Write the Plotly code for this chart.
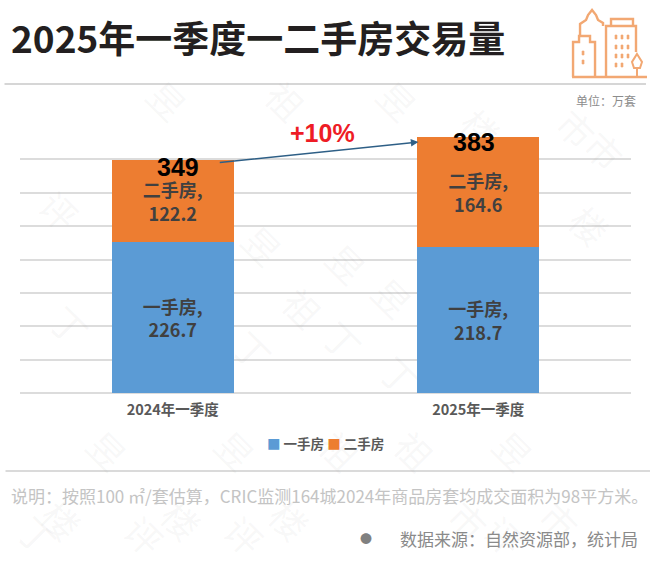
import plotly.graph_objects as go

categories = ["2024年一季度", "2025年一季度"]
series_names = ["一手房", "二手房"]
first_hand = [226.7, 218.7]
second_hand = [122.2, 164.6]
totals = [349, 383]
change_label = "+10%"
title_text = "2025年一季度一二手房交易量"
unit_text = "单位\uff1a万套"
note_text = "说明\uff1a按照100 ㎡/套估算\uff0cCRIC监测164城2024年商品房套均成交面积为98平方米。"
source_text = "数据来源\uff1a自然资源部\uff0c统计局"

BLUE, ORANGE = "#5b9bd5", "#ed7d31"
CJK = "Noto Sans CJK SC"
W, H = 650, 573
L, R, T, B = 19.5, 631, 126, 393

def px(x):
    return (x - L) / (R - L)
def py(y):
    return (B - y) / (B - T)

fig = go.Figure()
for name, vals, col in [(series_names[0], first_hand, BLUE), (series_names[1], second_hand, ORANGE)]:
    fig.add_bar(
        x=categories, y=vals, name=name, marker=dict(color=col, line_width=0),
        text=[f"{name},<br>{v}" for v in vals], textposition="inside",
        insidetextanchor="middle", textangle=0,
        insidetextfont=dict(family=CJK, size=18, color="#404040", weight="bold"),
        hoverinfo="skip", cliponaxis=False,
    )

ann = []
def text(x, y, s, size, color, anchor="center", bold=False, family=CJK, angle=0):
    ann.append(dict(xref="paper", yref="paper", x=px(x), y=py(y), text=f"<b>{s}</b>" if bold else s,
                    showarrow=False, xanchor=anchor, yanchor="middle", textangle=angle,
                    font=dict(family=family, size=size, color=color)))

# watermark (rotated, very pale)
marks = [("昱",168,100),("祖",286,100),("昱",398,100),("楼",481,128),("市",577,128),
         ("评",60,210),("昱",263,245),("昱",347,263),("祖",303,307),("昱",393,297),
         ("丁",253,350),("丁",343,340),("丁",400,375),("丁",70,325),("市",605,150),
         ("楼",590,225),("昱",108,450),("昱",236,450),("祖",340,450),
         ("祖",415,450),("昱",514,450),("楼",62,520),("楼",182,520),("楼",290,520),
         ("市",469,520),("市",560,520),("丁",38,535),("评",145,535),
         ("评",245,535),("评",505,535)]
for ch, x, y in marks:
    text(x, y, ch, 36, "rgba(150,150,150,0.07)", angle=45)

text(8, 37, title_text, 37, "#231f20", "left", True)
text(638, 100, unit_text, 12, "#8c8c8c", "right")
text(322, 133, change_label, 25, "#ee1c25", bold=True, family="Liberation Sans")
text(8, 495, note_text, 17, "#c4c4c4", "left")
text(640, 538, source_text, 17, "#8a8a8a", "right")
text(366, 538, "●", 12, "#808080")
legend = f'<span style="color:{BLUE}">■</span> {series_names[0]} <span style="color:{ORANGE}">■</span> {series_names[1]}'
text(325, 443, legend, 13.5, "#595959", bold=True)

# totals above the stacks
for i, (t, dx, dy) in enumerate(zip(totals, (5, -4), (-7, -5))):
    ann.append(dict(xref="x", yref="y", x=i, y=t, text=f"<b>{t}</b>", showarrow=False,
                    xshift=dx, yshift=dy, font=dict(family="Liberation Sans", size=25, color="#000000")))

# growth arrow
ann.append(dict(xref="x", yref="y", axref="x", ayref="y", x=0.804, y=376, ax=0.149, ay=345,
                text="", showarrow=True, arrowhead=2, arrowsize=1, arrowwidth=1.5, arrowcolor="#2e5f86"))

shapes = []
def path(d, width=2.4, fill=None):
    out = []
    for tok in d.split():
        if "," in tok:
            a, b = tok.split(",")
            out.append(f"{px(float(a)):.5f},{py(float(b)):.5f}")
        else:
            out.append(tok)
    shapes.append(dict(type="path", xref="paper", yref="paper", path=" ".join(out),
                       line=dict(color="#f2a873", width=width), fillcolor=fill or "rgba(0,0,0,0)"))
def rule(x0, x1, y, color, w=1.3):
    shapes.append(dict(type="line", xref="paper", yref="paper", x0=px(x0), x1=px(x1), y0=py(y), y1=py(y),
                       line=dict(color=color, width=w)))

rule(4, 646, 84, "#c9c9c9", 1.5)
rule(5, 650, 471, "#b5b5b5", 1.2)

# building icon
path("M 572,77 L 647,77")
path("M 573,77 L 573,42 L 579,42 L 579,36 L 590,36 L 590,42 L 595,42 L 595,77")
path("M 580,36 L 580,24 L 586,20 L 588,15 L 592,10 L 596,15 L 598,20 L 603,23 L 603,26")
path("M 606,77 L 606,26 L 636,26 L 636,52")
path("M 611,26 L 611,19 L 633,19 L 633,26")
for wx in (616, 622, 628):
    for wy in (37, 47, 56, 65):
        if wx == 628 and wy == 65:
            continue
        path(f"M {wx-1},{wy-2} L {wx+1},{wy-2} L {wx+1},{wy+2} L {wx-1},{wy+2} Z", 0.6, "#f2a873")
for wy in (53, 62):
    path(f"M 582,{wy-2} L 584,{wy-2} L 584,{wy+2} L 582,{wy+2} Z", 0.6, "#f2a873")
path("M 637,54 L 642,62 L 640,68 L 634,68 L 632,62 Z M 637,68 L 637,77", 2)

fig.update_layout(
    width=W, height=H, barmode="stack", bargap=0.6, showlegend=False,
    paper_bgcolor="white", plot_bgcolor="white",
    margin=dict(l=L, r=W - R, t=T, b=H - B, pad=0),
    annotations=ann, shapes=shapes,
    xaxis=dict(showline=False, ticks="", showgrid=False, zeroline=False, ticklabelstandoff=6,
               tickfont=dict(family=CJK, size=14.5, color="#595959", weight="bold")),
    yaxis=dict(range=[0, 400], dtick=50, showticklabels=False, ticks="", showline=False,
               gridcolor="#dcdcdc", gridwidth=1.5, zeroline=True, zerolinecolor="#dcdcdc", zerolinewidth=1.5),
)
fig.write_html("out.html", config={"displayModeBar": False},
               post_script="document.body.style.margin='0';document.body.style.overflow='hidden';")
